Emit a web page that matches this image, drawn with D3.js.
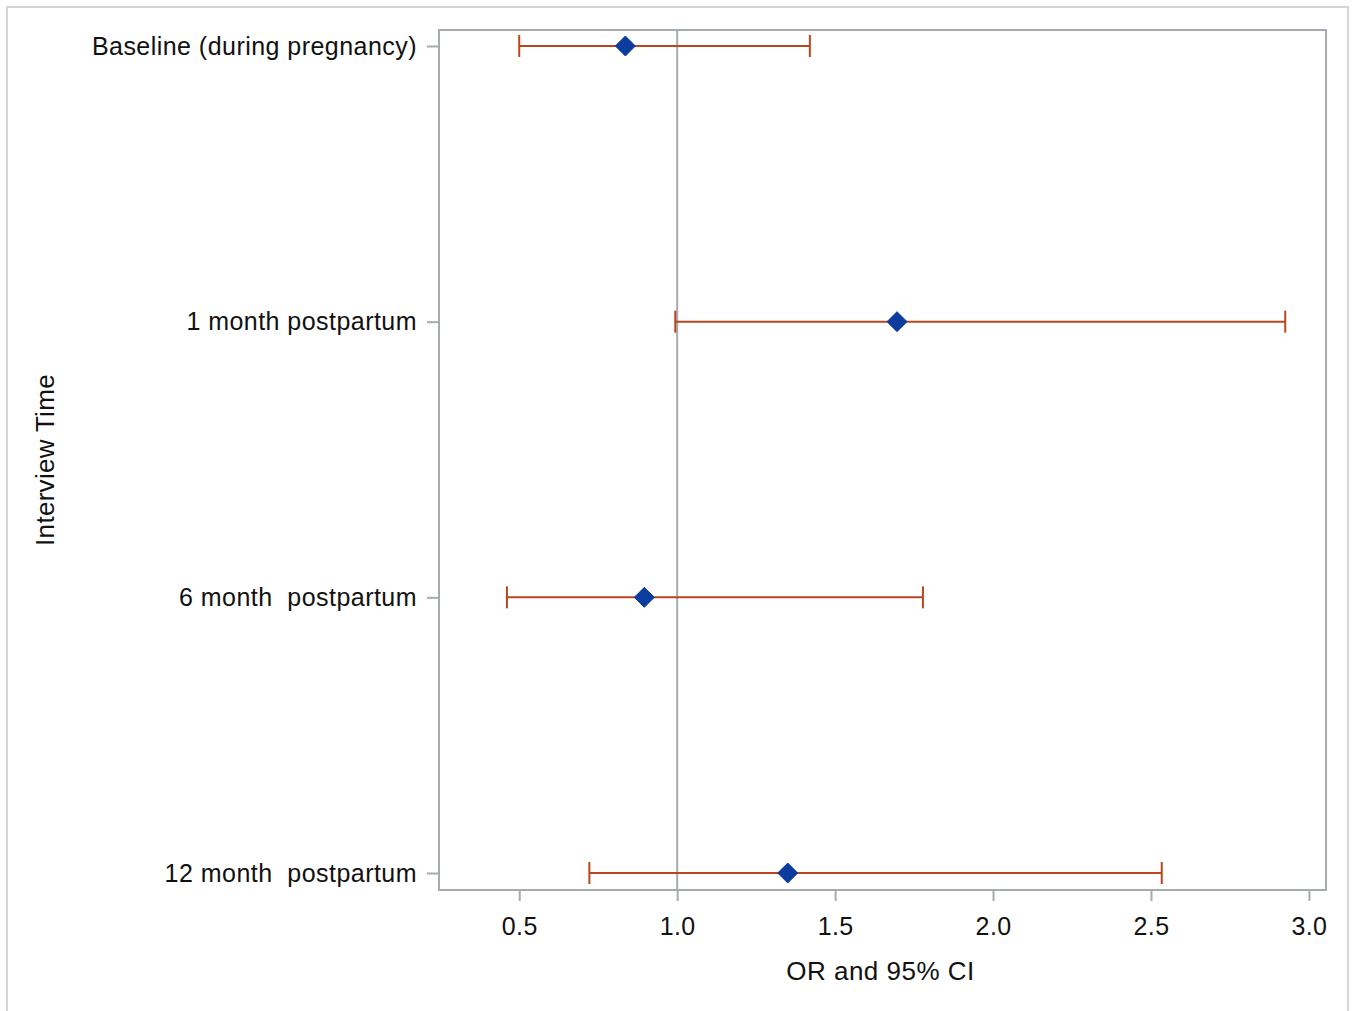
<!DOCTYPE html>
<html>
<head>
<meta charset="utf-8">
<script src="https://cdn.jsdelivr.net/npm/d3@7"></script>
<style>
  body { margin: 0; background: #fff; }
  text { font-family: "Liberation Sans", Arial, sans-serif; fill: #111; }
</style>
</head>
<body>
<div id="vis"></div>
<script>
// Data
const categories = ["Baseline (during pregnancy)", "1 month postpartum", "6 month\u00a0 postpartum", "12 month\u00a0 postpartum"];
const oddsRatios = [0.836, 1.696, 0.896, 1.350];
const lowerCI = [0.500, 0.994, 0.461, 0.722];
const upperCI = [1.420, 2.925, 1.778, 2.534];
const xTicks = [0.5, 1.0, 1.5, 2.0, 2.5, 3.0];

const width = 1355;
const height = 1011;
const margin = { top: 30, right: 29, bottom: 121, left: 439 };
const plotW = width - margin.left - margin.right;
const plotH = height - margin.top - margin.bottom;

const svg = d3.select("#vis").append("svg")
  .attr("width", width)
  .attr("height", height);

// outer frame
svg.append("path")
  .attr("d", "M7,1011 V7 H1348 V1011")
  .attr("fill", "none")
  .attr("stroke", "#d6d6d6")
  .attr("stroke-width", 2);

const g = svg.append("g")
  .attr("transform", "translate(" + margin.left + "," + margin.top + ")");

// scales
const x = d3.scaleLinear().domain([0.246, 3.054]).range([0, plotW]);
const y = d3.scalePoint().domain(categories).range([16, plotH - 17]);

const rows = categories.map(function (c, i) {
  return { cat: c, or: oddsRatios[i], lo: lowerCI[i], hi: upperCI[i] };
});

// axes
const xAxis = g.append("g")
  .attr("transform", "translate(0," + plotH + ")")
  .call(d3.axisBottom(x).tickValues(xTicks).tickFormat(d3.format(".1f")).tickSize(11).tickPadding(16));
xAxis.select(".domain").remove();
xAxis.selectAll("line").attr("stroke", "#a5abb0").attr("stroke-width", 2);
xAxis.selectAll("text").style("font-size", "25px").attr("fill", "#111")
  .style("letter-spacing", "0.4px")
  .style("font-family", "'Liberation Sans', Arial, sans-serif");

const yAxis = g.append("g")
  .call(d3.axisLeft(y).tickSize(12).tickPadding(10));
yAxis.select(".domain").remove();
yAxis.selectAll("line").attr("stroke", "#a5abb0").attr("stroke-width", 2);
yAxis.selectAll("text").style("font-size", "25px").attr("fill", "#111")
  .style("letter-spacing", "0.46px")
  .style("font-family", "'Liberation Sans', Arial, sans-serif");

// plot border
g.append("rect")
  .attr("width", plotW)
  .attr("height", plotH)
  .attr("fill", "none")
  .attr("stroke", "#a5abb0")
  .attr("stroke-width", 2);

// reference line at 1
g.append("line")
  .attr("x1", x(1)).attr("x2", x(1))
  .attr("y1", 0).attr("y2", plotH)
  .attr("stroke", "#a5abb0")
  .attr("stroke-width", 2);

// error bars
const bars = g.selectAll(".bar").data(rows).enter().append("g").attr("class", "bar");
const barColor = "#b9461c";
bars.append("line")
  .attr("x1", function (d) { return x(d.lo); })
  .attr("x2", function (d) { return x(d.hi); })
  .attr("y1", function (d) { return y(d.cat); })
  .attr("y2", function (d) { return y(d.cat); })
  .attr("stroke", barColor).attr("stroke-width", 2);
["lo", "hi"].forEach(function (k) {
  bars.append("line")
    .attr("x1", function (d) { return x(d[k]); })
    .attr("x2", function (d) { return x(d[k]); })
    .attr("y1", function (d) { return y(d.cat) - 11; })
    .attr("y2", function (d) { return y(d.cat) + 11; })
    .attr("stroke", barColor).attr("stroke-width", 2);
});

// diamonds
bars.append("path")
  .attr("d", "M0,-10 L10,0 L0,10 L-10,0 Z")
  .attr("transform", function (d) { return "translate(" + x(d.or) + "," + y(d.cat) + ")"; })
  .attr("fill", "#0b3c9e")
  .attr("stroke", "#0b3c9e")
  .attr("stroke-width", 1);

// axis titles
svg.append("text")
  .attr("x", margin.left + plotW / 2 - 2)
  .attr("y", 980)
  .attr("text-anchor", "middle")
  .style("font-size", "26px")
  .style("letter-spacing", "0.5px")
  .text("OR and 95% CI");

svg.append("text")
  .attr("transform", "translate(54," + 460 + ") rotate(-90)")
  .attr("text-anchor", "middle")
  .style("font-size", "26px")
  .style("letter-spacing", "0.3px")
  .text("Interview Time");
</script>
</body>
</html>
